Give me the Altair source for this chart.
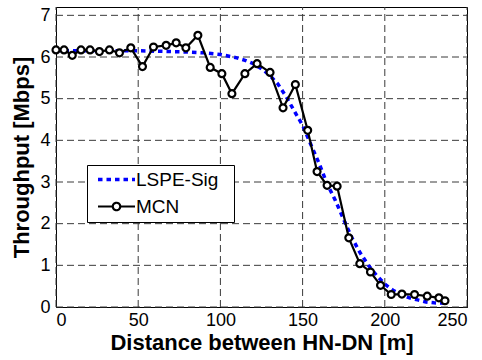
import altair as alt
import pandas as pd

# ---- data ----
series_names = ["LSPE-Sig", "MCN"]

mcn_x = [0, 4.9, 9.9, 15.2, 20.7, 26.4, 32.5, 38.6, 45.5, 52.6,
         59.3, 67.0, 73.1, 79.0, 86.3, 93.8, 100.9, 107.0, 114.9, 122.3,
         130.2, 138.1, 145.6, 153.1, 158.8, 164.9, 171.0, 178.1, 184.8, 191.3,
         197.4, 203.9, 210.4, 218.1, 225.8, 232.9, 236.6]
mcn_y = [6.17, 6.17, 6.04, 6.17, 6.17, 6.13, 6.17, 6.10, 6.22, 5.77,
         6.24, 6.28, 6.34, 6.22, 6.52, 5.75, 5.60, 5.12, 5.60, 5.84,
         5.63, 4.78, 5.34, 4.24, 3.25, 2.92, 2.90, 1.66, 1.04, 0.84,
         0.52, 0.30, 0.31, 0.30, 0.26, 0.22, 0.15]

sig_x = [0, 10, 20, 30, 40, 50, 60, 70, 80, 90,
         100, 110, 115, 120, 125, 130, 135, 140, 145, 150,
         155, 160, 165, 170, 175, 180, 185, 190, 195, 200,
         205, 210, 215, 220, 225, 230, 237]
sig_y = [6.15, 6.15, 6.15, 6.15, 6.15, 6.15, 6.14, 6.13, 6.12, 6.10,
         6.06, 5.98, 5.92, 5.84, 5.72, 5.56, 5.35, 5.05, 4.70, 4.36,
         3.90, 3.45, 2.95, 2.55, 2.10, 1.66, 1.30, 1.00, 0.76, 0.55,
         0.40, 0.30, 0.22, 0.17, 0.12, 0.10, 0.09]

x_ticks = [0, 50, 100, 150, 200, 250]
y_ticks = [0, 1, 2, 3, 4, 5, 6, 7]
x_domain = [0, 250]
y_domain = [0, 7.2]

df = pd.DataFrame({
    "x": sig_x + mcn_x,
    "y": sig_y + mcn_y,
    "series": [series_names[0]] * len(sig_x) + [series_names[1]] * len(mcn_x),
})
df_gx = pd.DataFrame({"gx": x_ticks})
df_gy = pd.DataFrame({"gy": y_ticks})

FONT = "Liberation Sans"
BLUE = "#0000ff"
GRID_COLOR = "#3a3a3a"
GRID_DASH = [7, 4]

# legend symbols (custom paths, unit = sqrt(size)/2 px)
PATH_LINE = "M-3.7,0H3.7"
PATH_MCN = ("M-3.7,0H-0.75M0.75,0H3.7"
            "M-0.75,0A0.75,0.75,0,1,1,0.75,0A0.75,0.75,0,1,1,-0.75,0Z")

x_scale = alt.Scale(domain=x_domain, nice=False, zero=False)
y_scale = alt.Scale(domain=y_domain, nice=False)

x_axis = alt.Axis(values=x_ticks, grid=False, title="Distance between HN-DN [m]")
y_axis = alt.Axis(values=y_ticks, grid=False, title="Throughput [Mbps]")

x_enc = alt.X("x:Q", scale=x_scale, axis=x_axis)
y_enc = alt.Y("y:Q", scale=y_scale, axis=y_axis)

legend_def = alt.Legend(
    title="\u00a0", titleOrient="right", titlePadding=11, titleFontSize=8,
    orient="none", legendX=31, legendY=158,
    strokeColor="black", fillColor="white", padding=5, cornerRadius=0,
    labelFont=FONT, labelFontSize=19, labelColor="black",
    symbolSize=100, symbolOffset=15, labelOffset=10, rowPadding=7,
)

base = alt.Chart(df)

grid_x = alt.Chart(df_gx).mark_rule(
    stroke=GRID_COLOR, strokeWidth=1, strokeDash=GRID_DASH
).encode(
    x=alt.X("gx:Q", scale=x_scale, axis=x_axis),
    y=alt.YDatum(y_domain[0], scale=y_scale, axis=y_axis),
    y2=alt.Y2Datum(y_domain[1]),
)

grid_y = alt.Chart(df_gy).mark_rule(
    stroke=GRID_COLOR, strokeWidth=1, strokeDash=GRID_DASH
).encode(
    y=alt.Y("gy:Q", scale=y_scale, axis=y_axis),
    x=alt.XDatum(x_domain[0], scale=x_scale, axis=x_axis),
    x2=alt.X2Datum(x_domain[1]),
)

legend_layer = base.transform_filter("datum.y < -100").mark_point(
    filled=False, opacity=1
).encode(
    x=x_enc, y=y_enc,
    color=alt.Color("series:N", scale=alt.Scale(domain=series_names, range=[BLUE, "black"]), legend=legend_def),
    shape=alt.Shape("series:N", scale=alt.Scale(domain=series_names, range=[PATH_LINE, PATH_MCN]), legend=legend_def),
    strokeDash=alt.StrokeDash("series:N", scale=alt.Scale(domain=series_names, range=[[4.5, 4], [1, 0]]), legend=legend_def),
    strokeWidth=alt.StrokeWidth("series:N", scale=alt.Scale(domain=series_names, range=[3.5, 2.2]), legend=legend_def),
)

sig_line = base.transform_filter(alt.datum.series == series_names[0]).mark_line(
    color=BLUE, strokeWidth=3.5, strokeDash=[4.5, 4], strokeCap="butt"
).encode(x=x_enc, y=y_enc)

mcn_line = base.transform_filter(alt.datum.series == series_names[1]).mark_line(
    color="black", strokeWidth=2.2
).encode(x=x_enc, y=y_enc)

mcn_pts = base.transform_filter(alt.datum.series == series_names[1]).mark_point(
    shape="circle", size=48, filled=True, fill="white", stroke="black",
    strokeWidth=2.2, opacity=1
).encode(x=x_enc, y=y_enc)

chart = alt.layer(grid_x, grid_y, legend_layer, sig_line, mcn_line, mcn_pts).properties(
    width=411, height=300,
    padding={"left": 56, "top": 7, "right": 15, "bottom": 53},
    autosize="none",
    background="white",
).configure_view(
    stroke="black", strokeWidth=1
).configure_axis(
    domainColor="black", domainWidth=1,
    ticks=False,
    labelFont=FONT, labelFontSize=18, labelColor="black",
    titleFont=FONT, titleFontSize=22, titleFontWeight="bold", titleColor="black",
).configure_axisX(
    labelPadding=4, titlePadding=3,
).configure_axisY(
    labelPadding=6, titlePadding=6,
)

chart.save("out.html", embed_options={"renderer": "svg", "actions": False})
